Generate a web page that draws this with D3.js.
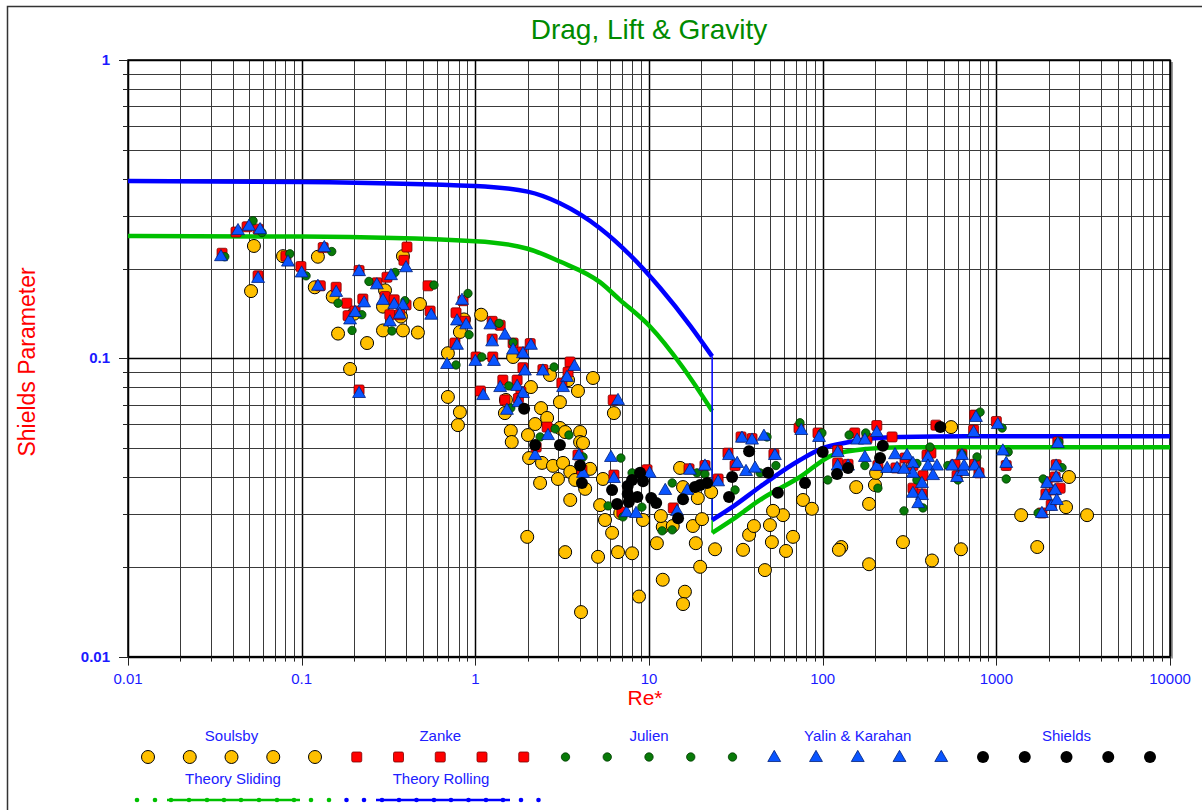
<!DOCTYPE html>
<html><head><meta charset="utf-8">
<script src="https://cdn.jsdelivr.net/npm/d3@7"></script>
<style>body{margin:0;background:#fff}svg{display:block}text{font-family:"Liberation Sans",Arial,sans-serif}</style>
</head><body>
<script>
// ---------------- DATA ----------------
const xTicks = [0.01, 0.1, 1, 10, 100, 1000, 10000];
const xTickLabels = ["0.01", "0.1", "1", "10", "100", "1000", "10000"];
const yTicks = [0.01, 0.1, 1];
const yTickLabels = ["0.01", "0.1", "1"];
const seriesNames = ["Soulsby", "Zanke", "Julien", "Yalin & Karahan", "Shields"];
const lineNames = ["Theory Sliding", "Theory Rolling"];

const soulsby = [[0.0531,0.238],[0.0511,0.168],[0.0781,0.220],[0.124,0.219],[0.119,0.173],[0.151,0.161],[0.162,0.121],[0.238,0.1125],[0.190,0.0921],[0.200,0.141],[0.302,0.169],[0.383,0.220],[0.294,0.149],[0.373,0.138],[0.294,0.124],[0.383,0.124],[0.467,0.122],[0.480,0.152],[1.08,0.140],[0.860,0.135],[0.815,0.1225],[0.695,0.104],[0.695,0.0742],[0.815,0.0660],[0.794,0.0597],[1.65,0.101],[2.69,0.0879],[3.42,0.0845],[4.76,0.0859],[3.90,0.0777],[3.07,0.0713],[2.09,0.0801],[1.50,0.0725],[1.48,0.0655],[2.39,0.0681],[2.59,0.0631],[2.21,0.0602],[3.07,0.0584],[3.29,0.0566],[4.01,0.0566],[4.01,0.0524],[4.17,0.0520],[1.60,0.0571],[1.62,0.0524],[2.01,0.0553],[2.04,0.0463],[2.42,0.0446],[2.80,0.0436],[3.20,0.0446],[4.58,0.0426],[3.52,0.0416],[2.99,0.0394],[3.76,0.0391],[4.29,0.0365],[2.36,0.0382],[5.43,0.0394],[3.52,0.0335],[1.99,0.0252],[3.29,0.0224],[5.09,0.0216],[4.06,0.0141],[6.63,0.0224],[7.99,0.0222],[6.13,0.0260],[5.58,0.0287],[5.23,0.0322],[6.83,0.0303],[9.24,0.0287],[11.1,0.0240],[12.0,0.0181],[8.76,0.0159],[16.1,0.0165],[15.7,0.0150],[19.7,0.0200],[18.6,0.0240],[24.0,0.0229],[17.9,0.0274],[20.2,0.0289],[12.0,0.0272],[13.7,0.0274],[11.7,0.0296],[15.1,0.0429],[15.7,0.0370],[19.1,0.0340],[22.8,0.0356],[59.1,0.0298],[51.8,0.0308],[49.7,0.0276],[46.5,0.0195],[37.7,0.0256],[40.2,0.0274],[34.8,0.0228],[51.0,0.0242],[61.5,0.0226],[67.5,0.0252],[77.0,0.0335],[86.7,0.0313],[128,0.0233],[124,0.0228],[156,0.0370],[200,0.0376],[203,0.0413],[185,0.0325],[185,0.0204],[290,0.0242],[426,0.0210],[626,0.0229],[549,0.0588],[2620,0.0400],[2520,0.0317],[3330,0.0298],[1390,0.0298],[1720,0.0233],[6.28,0.0655]];

const zanke = [[0.0348,0.225],[0.0485,0.276],[0.0561,0.271],[0.0419,0.265],[0.0561,0.189],[0.0812,0.220],[0.133,0.235],[0.099,0.203],[0.128,0.175],[0.158,0.173],[0.182,0.153],[0.185,0.139],[0.203,0.144],[0.214,0.0783],[0.214,0.197],[0.225,0.158],[0.271,0.179],[0.310,0.187],[0.404,0.236],[0.388,0.213],[0.302,0.161],[0.341,0.157],[0.399,0.151],[0.322,0.140],[0.367,0.140],[0.534,0.175],[0.549,0.144],[0.849,0.156],[0.774,0.142],[0.871,0.133],[0.763,0.1125],[1.07,0.0777],[1.01,0.101],[1.26,0.101],[1.25,0.133],[1.25,0.116],[1.39,0.129],[1.65,0.1125],[1.86,0.105],[2.07,0.112],[1.44,0.0845],[1.74,0.0845],[1.88,0.0930],[2.45,0.0917],[3.51,0.0972],[3.42,0.0899],[3.15,0.0826],[1.83,0.0772],[1.48,0.0725],[1.77,0.0733],[2.59,0.0588],[2.24,0.0504],[3.90,0.0474],[4.11,0.0423],[6.22,0.0725],[6.28,0.0406],[9.74,0.0423],[6.98,0.0305],[13.8,0.0315],[17.0,0.0426],[21.0,0.0437],[25.0,0.0394],[33.9,0.0545],[39.2,0.0538],[28.5,0.0481],[31.3,0.0437],[52.4,0.0477],[73.1,0.0584],[94.0,0.0562],[122,0.0491],[122,0.0446],[140,0.0441],[153,0.0562],[180,0.0538],[205,0.0595],[208,0.0437],[251,0.0545],[264,0.0429],[298,0.0463],[331,0.0437],[331,0.0367],[373,0.0351],[378,0.0404],[399,0.0474],[420,0.0481],[449,0.0597],[578,0.0440],[594,0.0404],[634,0.0477],[751,0.0645],[751,0.0441],[794,0.0413],[740,0.0575],[1000,0.0614],[1140,0.0437],[2260,0.0524],[2210,0.0440],[2180,0.0400],[1960,0.0385],[1930,0.0351],[2180,0.0362],[2070,0.0322],[1830,0.0303],[2330,0.0367]];

const julien = [[0.0361,0.219],[0.0525,0.289],[0.0591,0.264],[0.0855,0.224],[0.106,0.189],[0.149,0.228],[0.162,0.153],[0.195,0.124],[0.222,0.140],[0.244,0.181],[0.345,0.194],[0.578,0.176],[0.393,0.156],[0.331,0.1235],[0.907,0.165],[0.92,0.120],[0.774,0.0950],[1.09,0.101],[1.37,0.131],[1.65,0.113],[1.56,0.0808],[1.60,0.0681],[2.84,0.0935],[2.36,0.0545],[2.88,0.0580],[3.46,0.0553],[4.17,0.0467],[6.89,0.0463],[5.81,0.0320],[7.08,0.0294],[7.99,0.0413],[9.10,0.0317],[11.9,0.0264],[13.6,0.0266],[13.6,0.0382],[18.9,0.0413],[21.0,0.0409],[31.3,0.0362],[43.6,0.0413],[47.8,0.0545],[53.8,0.0437],[74.0,0.0608],[99,0.0562],[107,0.0391],[142,0.0553],[177,0.0562],[175,0.0437],[208,0.0367],[349,0.0391],[415,0.0504],[378,0.0315],[294,0.0308],[349,0.0444],[526,0.0437],[601,0.0391],[634,0.0477],[774,0.0467],[806,0.0660],[1080,0.0584],[1170,0.0485],[1140,0.0394],[2290,0.0524],[2390,0.0430],[1860,0.0394],[1740,0.0303]];

const yalin = [[0.0343,0.220],[0.0430,0.269],[0.0497,0.278],[0.0576,0.271],[0.0561,0.186],[0.0834,0.211],[0.135,0.236],[0.100,0.194],[0.124,0.175],[0.158,0.167],[0.190,0.135],[0.203,0.143],[0.214,0.0765],[0.214,0.196],[0.229,0.154],[0.271,0.177],[0.327,0.190],[0.399,0.202],[0.294,0.157],[0.341,0.152],[0.383,0.151],[0.322,0.133],[0.367,0.141],[0.557,0.140],[0.838,0.157],[0.784,0.134],[0.885,0.130],[0.784,0.111],[0.687,0.0957],[1.11,0.0753],[1.00,0.098],[1.28,0.098],[1.22,0.130],[1.25,0.114],[1.48,0.120],[1.65,0.107],[1.88,0.104],[2.09,0.111],[1.39,0.0801],[1.74,0.0808],[1.93,0.0910],[2.45,0.0910],[3.72,0.0943],[3.37,0.0866],[3.20,0.0801],[1.88,0.0765],[1.52,0.0672],[1.77,0.0713],[2.62,0.0553],[2.21,0.0474],[3.95,0.0474],[4.17,0.0413],[6.63,0.0725],[6.04,0.0467],[6.28,0.0397],[7.43,0.0305],[8.42,0.0303],[10.1,0.0413],[12.4,0.0362],[14.5,0.0308],[17.2,0.0423],[21.0,0.0437],[16.6,0.0362],[25.0,0.0387],[36.2,0.0419],[40.8,0.0430],[34.3,0.0542],[39.2,0.0534],[45.9,0.0550],[28.9,0.0474],[32.2,0.0446],[53.1,0.0474],[75.3,0.0575],[95.3,0.0545],[122,0.0485],[122,0.0437],[140,0.0437],[158,0.0534],[175,0.0534],[205,0.0566],[175,0.0467],[205,0.0436],[235,0.0429],[261,0.0477],[268,0.0429],[306,0.0474],[331,0.0446],[331,0.0413],[294,0.0426],[373,0.0382],[331,0.0354],[373,0.0348],[355,0.0327],[404,0.0467],[404,0.0437],[455,0.0437],[432,0.0406],[557,0.0437],[594,0.0400],[644,0.0419],[652,0.0437],[634,0.0474],[751,0.0437],[794,0.0413],[763,0.0636],[740,0.0566],[1020,0.0602],[1090,0.0491],[1140,0.0446],[2260,0.0520],[2210,0.0437],[2210,0.0400],[1960,0.0382],[1930,0.0348],[2180,0.0362],[2070,0.0320],[1830,0.0303],[2230,0.0335]];

const shields = [[1.91,0.0677],[2.21,0.0512],[3.07,0.0512],[4.01,0.0437],[4.11,0.0382],[6.13,0.0362],[6.55,0.0325],[7.54,0.0373],[7.54,0.0351],[7.65,0.0330],[7.99,0.0391],[8.88,0.0413],[9.24,0.0387],[8.57,0.0343],[10.3,0.0340],[14.7,0.0291],[15.7,0.0337],[18.4,0.0370],[19.7,0.0376],[21.6,0.0382],[30.1,0.0400],[28.9,0.0343],[37.7,0.0488],[48.5,0.0413],[55.2,0.0354],[79.1,0.0382],[100,0.0485],[121,0.0409],[140,0.0429],[214,0.0463],[222,0.0509],[476,0.0588],[11.0,0.0327]];

// theory curves
const slidingRe    = [0.01, 0.1, 1, 2, 3.07, 5.22, 6.8, 10.1, 15.6, 23.1];
const slidingTheta = [0.257, 0.256, 0.247, 0.233, 0.211, 0.180, 0.157, 0.128, 0.0935, 0.0666];
const rollingRe    = [0.01, 0.1, 1, 2, 3.07, 5.22, 7.77, 11.6, 17.2, 23.1];
const rollingTheta = [0.393, 0.390, 0.378, 0.362, 0.331, 0.273, 0.222, 0.172, 0.129, 0.1015];
const slidingLowRe    = [23.1, 31.3, 43.6, 74, 114, 180, 279, 10000];
const slidingLowTheta = [0.026, 0.0292, 0.0335, 0.040, 0.0474, 0.0497, 0.0503, 0.0503];
const rollingLowRe    = [23.1, 31.3, 43.6, 74, 100, 143, 180, 279, 677, 10000];
const rollingLowTheta = [0.0287, 0.0322, 0.0371, 0.0456, 0.050, 0.0524, 0.0536, 0.0545, 0.0548, 0.0548];

// ---------------- CHART ----------------
const W = 1202, H = 810;
const plot = {left: 128, right: 1170, top: 60, bottom: 656.6};
const svg = d3.select("body").append("svg").attr("width", W).attr("height", H);
svg.append("rect").attr("width", W).attr("height", H).attr("fill", "#fff");
svg.append("rect").attr("x", 7.5).attr("y", 6.5).attr("width", 1200).attr("height", 820)
  .attr("fill", "none").attr("stroke", "#333").attr("stroke-width", 1.5);

const x = d3.scaleLog().domain([0.01, 10000]).range([plot.left, plot.right]);
const y = d3.scaleLog().domain([0.01, 1]).range([plot.bottom, plot.top]);

// plot shadow
svg.append("line").attr("x1", plot.right + 2).attr("x2", plot.right + 2).attr("y1", plot.top + 2).attr("y2", plot.bottom + 2)
  .attr("stroke", "#999").attr("stroke-width", 2);

const grid = svg.append("g");
const xMinor = x.ticks(60).filter(v => v >= 0.01 && v <= 10000);
const yMinor = y.ticks(30).filter(v => v >= 0.01 && v <= 1);
const isMajor = v => Math.abs(Math.log10(v) - Math.round(Math.log10(v))) < 1e-6;
grid.selectAll(".vx").data(xMinor).join("line")
  .attr("x1", d => Math.round(x(d)) + 0.5).attr("x2", d => Math.round(x(d)) + 0.5)
  .attr("y1", plot.top).attr("y2", plot.bottom)
  .attr("stroke", d => isMajor(d) ? "#000" : "#3a3a3a").attr("stroke-width", d => isMajor(d) ? 1.5 : 1);
grid.selectAll(".hy").data(yMinor).join("line")
  .attr("y1", d => Math.round(y(d)) + 0.5).attr("y2", d => Math.round(y(d)) + 0.5)
  .attr("x1", plot.left).attr("x2", plot.right)
  .attr("stroke", d => isMajor(d) ? "#000" : "#3a3a3a").attr("stroke-width", d => isMajor(d) ? 1.5 : 1);
svg.append("rect").attr("x", plot.left).attr("y", plot.top).attr("width", plot.right - plot.left).attr("height", plot.bottom - plot.top)
  .attr("fill", "none").attr("stroke", "#000").attr("stroke-width", 1.5);

// ticks
svg.selectAll(".xt").data(xMinor).join("line")
  .attr("x1", d => Math.round(x(d)) + 0.5).attr("x2", d => Math.round(x(d)) + 0.5)
  .attr("y1", plot.bottom).attr("y2", d => plot.bottom + (isMajor(d) ? 9 : 5))
  .attr("stroke", "#222").attr("stroke-width", 1);
svg.selectAll(".yt").data(yMinor).join("line")
  .attr("y1", d => Math.round(y(d)) + 0.5).attr("y2", d => Math.round(y(d)) + 0.5)
  .attr("x1", plot.left).attr("x2", d => plot.left - (isMajor(d) ? 9 : 5))
  .attr("stroke", "#222").attr("stroke-width", 1);

svg.selectAll(".xl").data(xTicks).join("text")
  .attr("x", d => x(d)).attr("y", plot.bottom + 27).attr("text-anchor", "middle")
  .attr("font-size", 15).attr("fill", "#1a1aff").text((d, i) => xTickLabels[i]);
svg.selectAll(".yl").data(yTicks).join("text")
  .attr("x", 110).attr("y", d => y(d) + 5).attr("text-anchor", "end")
  .attr("font-size", 15).attr("font-weight", "bold").attr("fill", "#1a1aff").text((d, i) => yTickLabels[i]);

// titles
svg.append("text").attr("x", 649).attr("y", 39).attr("text-anchor", "middle")
  .attr("font-size", 28).attr("fill", "#008a00").text("Drag, Lift & Gravity");
svg.append("text").attr("transform", "translate(35,362) rotate(-90)").attr("text-anchor", "middle")
  .attr("font-size", 23).attr("fill", "#ff0000").text("Shields Parameter");
svg.append("text").attr("x", 645).attr("y", 705).attr("text-anchor", "middle")
  .attr("font-size", 21).attr("fill", "#ff0000").text("Re*");

// theory lines
const line = d3.line().x(d => x(d[0])).y(d => y(d[1])).curve(d3.curveMonotoneX);
const zip = (a, b) => a.map((v, i) => [v, b[i]]);
const gLines = svg.append("g");
const GREEN = "#00c000", BLUE = "#0000ff";
gLines.append("path").attr("d", line(zip(slidingRe, slidingTheta))).attr("fill", "none").attr("stroke", GREEN).attr("stroke-width", 4.5);
gLines.append("path").attr("d", line(zip(slidingLowRe, slidingLowTheta))).attr("fill", "none").attr("stroke", GREEN).attr("stroke-width", 4.5);
gLines.append("line").attr("x1", x(23.1)).attr("x2", x(23.1)).attr("y1", y(slidingTheta[slidingTheta.length - 1])).attr("y2", y(slidingLowTheta[0]))
  .attr("stroke", GREEN).attr("stroke-width", 1.5);
gLines.append("path").attr("d", line(zip(rollingRe, rollingTheta))).attr("fill", "none").attr("stroke", BLUE).attr("stroke-width", 4.5);
gLines.append("path").attr("d", line(zip(rollingLowRe, rollingLowTheta))).attr("fill", "none").attr("stroke", BLUE).attr("stroke-width", 4.5);
gLines.append("line").attr("x1", x(23.1)).attr("x2", x(23.1)).attr("y1", y(rollingTheta[rollingTheta.length - 1])).attr("y2", y(rollingLowTheta[0]))
  .attr("stroke", BLUE).attr("stroke-width", 1.5);

// markers
const triPath = d3.symbol().type(d3.symbolTriangle).size(72)();
function drawMarker(g, kind) {
  if (kind === 0) g.append("circle").attr("r", 6.5).attr("fill", "#ffc000").attr("stroke", "#000").attr("stroke-width", 1);
  else if (kind === 1) g.append("rect").attr("x", -5).attr("y", -5).attr("width", 10).attr("height", 10).attr("rx", 1.5)
    .attr("fill", "#ff0000").attr("stroke", "#7a0000").attr("stroke-width", 0.8);
  else if (kind === 2) g.append("circle").attr("r", 4.2).attr("fill", "#087a08").attr("stroke", "#003a00").attr("stroke-width", 0.8);
  else if (kind === 3) g.append("path").attr("d", triPath).attr("transform", "translate(0,0.8)").attr("fill", "#0a55ff").attr("stroke", "#00207a").attr("stroke-width", 0.8).attr("stroke-linejoin", "round");
  else g.append("circle").attr("r", 6).attr("fill", "#000");
}
const allSeries = [soulsby, zanke, julien, yalin, shields];
allSeries.forEach((data, k) => {
  const g = svg.append("g");
  data.forEach(d => {
    const m = g.append("g").attr("transform", `translate(${x(d[0])},${y(d[1])})`);
    drawMarker(m, k);
  });
});

// legend
const leg = svg.append("g");
const legStep = 41.75, legX0 = 148, legY = 757;
seriesNames.forEach((name, k) => {
  leg.append("text").attr("x", legX0 + legStep * (k * 5 + 2)).attr("y", 741).attr("text-anchor", "middle")
    .attr("font-size", 15).attr("fill", "#2020ff").text(name);
  for (let i = 0; i < 5; i++) {
    const m = leg.append("g").attr("transform", `translate(${legX0 + legStep * (k * 5 + i)},${legY})`);
    drawMarker(m, k);
  }
});
const lineLegend = [
  {name: lineNames[0], color: GREEN, cx: 233, dots: [137, 155, 171, 189, 207, 224, 241, 259, 277, 294, 311, 329], seg: [167, 300]},
  {name: lineNames[1], color: BLUE, cx: 441, dots: [346.5, 364, 382, 399, 416.5, 434, 451, 468.5, 486, 503, 521, 538.5], seg: [376, 510]}
];
lineLegend.forEach(l => {
  leg.append("text").attr("x", l.cx).attr("y", 784).attr("text-anchor", "middle")
    .attr("font-size", 15).attr("fill", "#2020ff").text(l.name);
  leg.append("line").attr("x1", l.seg[0]).attr("x2", l.seg[1]).attr("y1", 800).attr("y2", 800)
    .attr("stroke", l.color).attr("stroke-width", 2.5);
  l.dots.forEach(dx => leg.append("circle").attr("cx", dx).attr("cy", 800).attr("r", 2.3).attr("fill", l.color));
});
</script>
</body></html>
